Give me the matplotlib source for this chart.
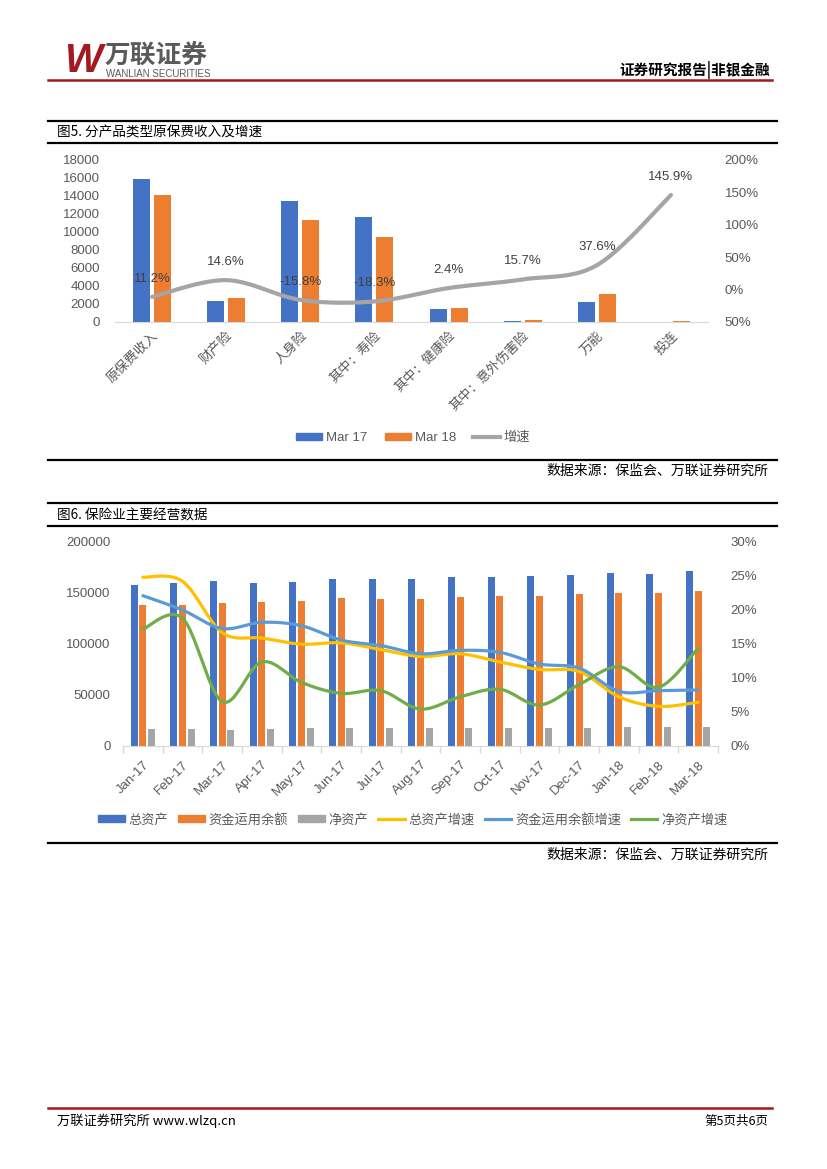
import numpy as np
import matplotlib
matplotlib.use("Agg")
import matplotlib.pyplot as plt
from matplotlib.lines import Line2D
from matplotlib.patches import Patch

plt.rcParams['font.family'] = ['Liberation Sans', 'Noto Sans CJK SC', 'DejaVu Sans']
plt.rcParams['axes.unicode_minus'] = False

# ---------------- data: chart 1 ----------------
cats1 = ['原保费收入', '财产险', '人身险', '其中：寿险', '其中：健康险', '其中：意外伤害险', '万能', '投连']
mar17 = [15900, 2330, 13450, 11680, 1480, 150, 2250, 45]
mar18 = [14100, 2670, 11330, 9450, 1515, 175, 3100, 110]
growth1 = [-0.112, 0.146, -0.158, -0.183, 0.024, 0.157, 0.376, 1.459]
growth1_labels = ['11.2%', '14.6%', '-15.8%', '-18.3%', '2.4%', '15.7%', '37.6%', '145.9%']
left1_ticks = [0, 2000, 4000, 6000, 8000, 10000, 12000, 14000, 16000, 18000]
right1_ticks = [-0.5, 0, 0.5, 1.0, 1.5, 2.0]
right1_labels = ['50%', '0%', '50%', '100%', '150%', '200%']
legend1 = ['Mar 17', 'Mar 18', '增速']

# ---------------- data: chart 2 ----------------
months = ['Jan-17', 'Feb-17', 'Mar-17', 'Apr-17', 'May-17', 'Jun-17', 'Jul-17', 'Aug-17',
          'Sep-17', 'Oct-17', 'Nov-17', 'Dec-17', 'Jan-18', 'Feb-18', 'Mar-18']
total_assets = [157000, 158700, 161000, 159000, 160000, 163000, 163000, 163000,
                164900, 164900, 165900, 166800, 168800, 167800, 170700]
funds_used = [137500, 137500, 139500, 140500, 141500, 144400, 143400, 143400,
              145400, 146300, 146300, 148300, 149300, 149300, 151200]
net_assets = [16600, 16600, 15600, 16600, 17500, 17500, 17500, 17500,
              17500, 17500, 17500, 17500, 18500, 18500, 18500]
g_total = [0.247, 0.241, 0.166, 0.158, 0.149, 0.151, 0.141, 0.131,
           0.135, 0.123, 0.112, 0.109, 0.072, 0.058, 0.064]
g_funds = [0.220, 0.199, 0.172, 0.181, 0.176, 0.155, 0.147, 0.135,
           0.140, 0.137, 0.120, 0.114, 0.080, 0.081, 0.082]
g_net = [0.171, 0.187, 0.065, 0.123, 0.093, 0.077, 0.081, 0.054,
         0.072, 0.083, 0.060, 0.090, 0.116, 0.086, 0.143]
left2_ticks = [0, 50000, 100000, 150000, 200000]
right2_ticks = [0, 0.05, 0.10, 0.15, 0.20, 0.25, 0.30]
right2_labels = ['0%', '5%', '10%', '15%', '20%', '25%', '30%']
legend2 = ['总资产', '资金运用余额', '净资产', '总资产增速', '资金运用余额增速', '净资产增速']

# ---------------- style ----------------
BLUE, ORANGE, GRAY = '#4472C4', '#ED7D31', '#A5A5A5'
YELLOW, LBLUE, GREEN = '#FFC000', '#5B9BD5', '#70AD47'
TXT = '#595959'
CJK = ['Noto Sans CJK SC', 'DejaVu Sans']
LAT = ['Liberation Sans', 'Noto Sans CJK SC', 'DejaVu Sans']

W, H = 827, 1169
fig = plt.figure(figsize=(W / 100, H / 100), dpi=100)


def rect(x0, y0, x1, y1):
    return [x0 / W, 1 - y1 / H, (x1 - x0) / W, (y1 - y0) / H]


def fx(x):
    return x / W


def fy(y):
    return 1 - y / H


def hline(y, x0=48, x1=777, lw=1.6, color='black'):
    fig.add_artist(Line2D([fx(x0), fx(x1)], [fy(y), fy(y)], lw=lw, color=color,
                          transform=fig.transFigure))


def smooth(xs, ys, n=24):
    P = np.column_stack([xs, ys]).astype(float)
    P = np.vstack([P[0], P, P[-1]])
    out = []
    t = np.linspace(0, 1, n, endpoint=False)[:, None]
    for i in range(1, len(P) - 2):
        p0, p1, p2, p3 = P[i - 1], P[i], P[i + 1], P[i + 2]
        c1 = p1 + (p2 - p0) / 6
        c2 = p2 - (p3 - p1) / 6
        out.append((1 - t) ** 3 * p1 + 3 * (1 - t) ** 2 * t * c1 + 3 * (1 - t) * t ** 2 * c2 + t ** 3 * p2)
    out.append(P[-2][None, :])
    s = np.vstack(out)
    return s[:, 0], s[:, 1]


# ---------------- header ----------------
fig.text(fx(64), fy(61), 'W', fontsize=29, fontweight='bold', fontstyle='italic',
         color='#A3191F', family=LAT, va='center', ha='left')
fig.text(fx(105), fy(55), '万联证券', fontsize=18.5, fontweight='bold', color='#5A5A5A',
         family=CJK, va='center', ha='left')
fig.text(fx(106), fy(74), 'WANLIAN SECURITIES', fontsize=7, color='#5A5A5A',
         family=LAT, va='center', ha='left')
fig.text(fx(770), fy(70), '证券研究报告|非银金融', fontsize=10.5, fontweight='bold',
         color='black', family=CJK, va='center', ha='right')
hline(80, 48, 772, lw=1.8, color='#A3191F')

# ---------------- chart 1 frame ----------------
hline(121)
hline(143)
hline(460)
fig.text(fx(57), fy(132), '图5. 分产品类型原保费收入及增速', fontsize=9.8, family=CJK,
         va='center', ha='left', color='black')
fig.text(fx(768), fy(471), '数据来源：保监会、万联证券研究所', fontsize=10, family=CJK,
         va='center', ha='right', color='black')

ax1 = fig.add_axes(rect(115, 160, 708, 322))
x1 = np.arange(len(cats1))
ax1.bar(x1 - 0.142, mar17, 0.23, color=BLUE, zorder=2)
ax1.bar(x1 + 0.142, mar18, 0.23, color=ORANGE, zorder=2)
ax1.set_xlim(-0.5, len(cats1) - 0.5)
ax1.set_ylim(0, 18000)
ax1.set_yticks(left1_ticks)
ax1.set_yticklabels([str(v) for v in left1_ticks])
ax1.set_xticks(x1)
ax1.set_xticklabels(cats1, rotation=45, ha='right', va='top', rotation_mode='anchor',
                    family=CJK, fontsize=9.5, color=TXT)
for s in ['top', 'left', 'right']:
    ax1.spines[s].set_visible(False)
ax1.spines['bottom'].set_color('#D9D9D9')
ax1.tick_params(axis='y', length=0, labelsize=9.5, labelcolor=TXT, pad=11)
ax1.tick_params(axis='x', length=0, pad=5)
ax1.patch.set_visible(False)

ax1r = ax1.twinx()
sx, sy = smooth(x1, growth1)
ax1r.plot(sx, sy, color=GRAY, lw=3, solid_capstyle='round', zorder=3)
ax1r.set_ylim(-0.5, 2.0)
ax1r.set_yticks(right1_ticks)
ax1r.set_yticklabels(right1_labels)
ax1r.tick_params(axis='y', length=0, labelsize=9.5, labelcolor=TXT, pad=12)
for s in ['top', 'left', 'right', 'bottom']:
    ax1r.spines[s].set_visible(False)
for xi, yi, lab in zip(x1, growth1, growth1_labels):
    ax1r.annotate(lab, (xi, yi), xytext=(0, 13), textcoords='offset points',
                  ha='center', va='center', fontsize=9.5, color='#404040', family=LAT)

h1 = [Patch(color=BLUE), Patch(color=ORANGE), Line2D([], [], color=GRAY, lw=3)]
lg1 = fig.legend(h1, legend1, loc='center', bbox_to_anchor=(fx(413), fy(438)), ncol=3,
                 frameon=False, fontsize=9.5, handlelength=2.0, handleheight=0.45,
                 handletextpad=0.3, columnspacing=1.3)
for t in lg1.get_texts():
    t.set_color(TXT)

# ---------------- chart 2 frame ----------------
hline(503)
hline(526)
hline(843)
fig.text(fx(57), fy(515), '图6. 保险业主要经营数据', fontsize=9.8, family=CJK,
         va='center', ha='left', color='black')
fig.text(fx(768), fy(855), '数据来源：保监会、万联证券研究所', fontsize=10, family=CJK,
         va='center', ha='right', color='black')

ax2 = fig.add_axes(rect(123, 541, 718, 746))
x2 = np.arange(len(months))
ax2.bar(x2 - 0.22, total_assets, 0.18, color=BLUE, zorder=2)
ax2.bar(x2, funds_used, 0.18, color=ORANGE, zorder=2)
ax2.bar(x2 + 0.22, net_assets, 0.18, color=GRAY, zorder=2)
ax2.set_xlim(-0.5, len(months) - 0.5)
ax2.set_ylim(0, 200000)
ax2.set_yticks(left2_ticks)
ax2.set_yticklabels([str(v) for v in left2_ticks])
ax2.set_xticks(x2)
ax2.set_xticklabels(months, rotation=45, ha='right', va='top', rotation_mode='anchor',
                    fontsize=9.5, color=TXT)
ax2.set_xticks(np.arange(-0.5, len(months), 1), minor=True)
for s in ['top', 'left', 'right']:
    ax2.spines[s].set_visible(False)
ax2.spines['bottom'].set_color('#D9D9D9')
ax2.tick_params(axis='y', length=0, labelsize=9.5, labelcolor=TXT, pad=9)
ax2.tick_params(axis='x', which='major', length=0, pad=9)
ax2.tick_params(axis='x', which='minor', length=5, color='#D9D9D9', width=1)
ax2.patch.set_visible(False)

ax2r = ax2.twinx()
for series, col in [(g_total, YELLOW), (g_funds, LBLUE), (g_net, GREEN)]:
    sx, sy = smooth(x2, series)
    ax2r.plot(sx, sy, color=col, lw=2.3, solid_capstyle='round', zorder=3)
ax2r.set_ylim(0, 0.30)
ax2r.set_yticks(right2_ticks)
ax2r.set_yticklabels(right2_labels)
ax2r.tick_params(axis='y', length=0, labelsize=9.5, labelcolor=TXT, pad=9)
for s in ['top', 'left', 'right', 'bottom']:
    ax2r.spines[s].set_visible(False)

h2 = [Patch(color=BLUE), Patch(color=ORANGE), Patch(color=GRAY),
      Line2D([], [], color=YELLOW, lw=2.3), Line2D([], [], color=LBLUE, lw=2.3),
      Line2D([], [], color=GREEN, lw=2.3)]
lg2 = fig.legend(h2, legend2, loc='center', bbox_to_anchor=(fx(413), fy(820)), ncol=6,
                 frameon=False, handlelength=2.0, handleheight=0.45,
                 handletextpad=0.3, columnspacing=0.75, prop={'family': CJK, 'size': 9.5})
for t in lg2.get_texts():
    t.set_color(TXT)

# ---------------- footer ----------------
hline(1108, 48, 772, lw=1.8, color='#A3191F')
fig.text(fx(57), fy(1121), '万联证券研究所 www.wlzq.cn', fontsize=9.5, family=CJK,
         va='center', ha='left', color='black')
fig.text(fx(768), fy(1121), '第5页共6页', fontsize=9, family=CJK,
         va='center', ha='right', color='black')

fig.savefig('out.png', dpi=100)
